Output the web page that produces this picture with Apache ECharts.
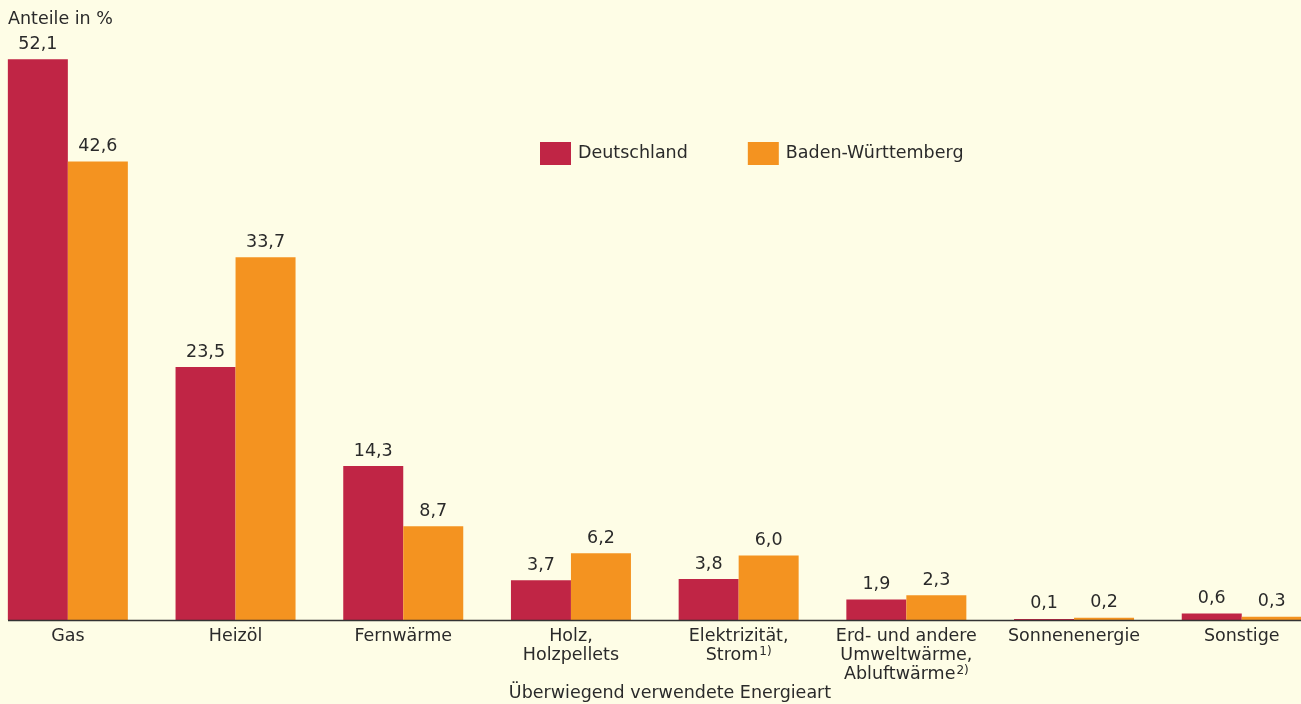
<!DOCTYPE html>
<html>
<head>
<meta charset="utf-8">
<script src="https://cdn.jsdelivr.net/npm/echarts@6/dist/echarts.min.js"></script>
<style>
  html, body { margin: 0; padding: 0; background: #fefde6; }
  #chart { width: 1301px; height: 704px; }
</style>
</head>
<body>
<div id="chart"></div>
<script>
// Kategorien und Werte (Anteile in %)
const categories = ['Gas', 'Heizöl', 'Fernwärme', 'Holz,\nHolzpellets', 'Elektrizität,\nStrom{sup|1)}', 'Erd- und andere\nUmweltwärme,\nAbluftwärme{sup|2)}', 'Sonnenenergie', 'Sonstige']
const deutschland = [52.1, 23.5, 14.3, 3.7, 3.8, 1.9, 0.1, 0.6]
const badenWuerttemberg = [42.6, 33.7, 8.7, 6.2, 6.0, 2.3, 0.2, 0.3]

const FONT = '"DejaVu Sans", sans-serif'
const FS = 17.5
const TXT = '#2a2a2a'

const chart = echarts.init(document.getElementById('chart'))

const valueLabel = {
  show: true,
  position: 'top',
  distance: 6,
  color: TXT,
  fontSize: FS,
  fontFamily: FONT,
  formatter: p => p.value.toFixed(1).replace('.', ',')
}

const option = {
  backgroundColor: '#fefde6',
  animation: false,
  title: [
    {
      text: 'Anteile in %',
      left: 8, top: 10, padding: 0,
      textStyle: { color: TXT, fontSize: FS, fontWeight: 'normal', fontFamily: FONT }
    },
    {
      text: 'Überwiegend verwendete Energieart',
      left: 670, top: 684, padding: 0, textAlign: 'center',
      textStyle: { color: TXT, fontSize: FS, fontWeight: 'normal', fontFamily: FONT }
    }
  ],
  legend: {
    left: 540, top: 142, padding: 0,
    itemWidth: 31, itemHeight: 23, itemGap: 60,
    icon: 'rect',
    textStyle: { color: TXT, fontSize: FS, fontFamily: FONT, padding: [0, 0, 0, 2] },
    data: ['Deutschland', 'Baden-Württemberg']
  },
  grid: { left: -16, width: 1341.6, top: 28, bottom: 84, outerBoundsMode: 'none', containLabel: false },
  xAxis: {
    type: 'category',
    data: categories,
    axisLine: { show: false },
    axisTick: { show: false },
    axisLabel: {
      interval: 0,
      margin: 7,
      color: TXT,
      fontSize: FS,
      fontFamily: FONT,
      lineHeight: 19,
      rich: {
        sup: { fontSize: 12, fontFamily: FONT, color: TXT, verticalAlign: 'top', padding: [0, 0, 9, 1] }
      }
    }
  },
  yAxis: {
    type: 'value',
    min: 0, max: 55,
    show: false,
    splitLine: { show: false }
  },
  graphic: [
    { type: 'line', shape: { x1: 8, y1: 620.5, x2: 1301, y2: 620.5 }, style: { stroke: '#333', lineWidth: 1.5 }, z: 10 }
  ],
  series: [
    {
      name: 'Deutschland',
      type: 'bar',
      data: deutschland,
      barWidth: 60,
      barGap: '0%',
      itemStyle: { color: '#c02545' },
      label: valueLabel
    },
    {
      name: 'Baden-Württemberg',
      type: 'bar',
      data: badenWuerttemberg,
      barWidth: 60,
      barGap: '0%',
      itemStyle: { color: '#f49320' },
      label: valueLabel
    }
  ]
}

chart.setOption(option)
window.addEventListener('resize', () => {
  chart.resize()
})
</script>
</body>
</html>
